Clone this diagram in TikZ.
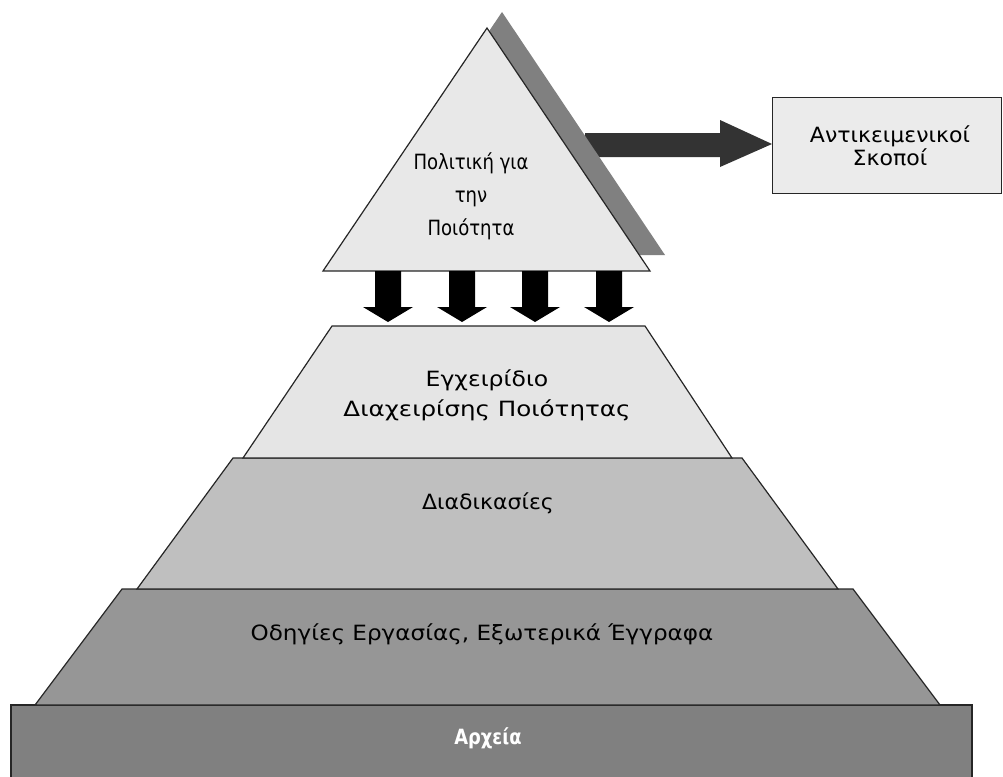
\documentclass[tikz,border=0pt]{standalone}
\usepackage{fontspec}
\usepackage{graphicx}
\setmainfont{DejaVu Sans}
% horizontally scaled line of text
\newcommand\hs[2]{\scalebox{#1}[1]{#2}}
\begin{document}
\begin{tikzpicture}[x=1pt,y=-1pt,
  outline/.style={draw=black!85,line width=1.2pt,line join=miter},
  label/.style={font=\fontsize{21}{30}\selectfont,align=center,inner sep=0pt,text=black},
  blockdown/.pic={\fill[black] (-13,0) -- (13,0) -- (13,36) -- (25,36) -- (0,51) -- (-25,36) -- (-13,36) -- cycle;}
]
\useasboundingbox (0,0) rectangle (1003,776);

% corner points of the top triangle
\coordinate (apex) at (487,28);
\coordinate (tbl) at (323,271);
\coordinate (tbr) at (650,271);

% objectives box and the arrow pointing at it (partly hidden by the shadow)
\node[draw=black!85,line width=1.2pt,fill=black!8,minimum width=229pt,minimum height=96pt,
      anchor=north west,inner sep=0pt] (goals) at (772,97) {};
\node[label,font=\fontsize{21}{23}\selectfont] (goalstext) at (890,146) {\hs{1.05}{Αντικειμενικοί}\\\hs{1.05}{Σκοποί}};
\coordinate (arrstart) at (585,145);
\fill[black!80] (arrstart) ++(0,-12) -- (720,133) -- (720,120) -- (goals.west |- 0,144) -- (720,167) -- (720,157) -- (585,157) -- cycle;

% shadow of the top triangle
\fill[black!50] ([shift={(15,-16)}]apex) -- ([shift={(15,-16)}]tbl) -- ([shift={(15,-16)}]tbr) -- cycle;
% top triangle
\draw[outline,fill=black!9] (apex) -- (tbr) -- (tbl) -- cycle;
\node[label,font=\fontsize{21}{33}\selectfont] (policy) at (471,196) {\hs{0.86}{Πολιτική για}\\\hs{0.86}{την}\\\hs{0.86}{Ποιότητα}};

% down arrows
\foreach \ax in {388,462,535,609} \pic at (\ax,271) {blockdown};

% bottom layer
\fill[black!50] (11,705) rectangle (972,780);
\draw[outline] (11,780) -- (11,705) -- (972,705) -- (972,780);
\node[label,text=white,font=\fontsize{21}{24}\bfseries\selectfont] (records) at (488,738) {\hs{0.85}{Αρχεία}};

% third layer
\draw[outline,fill=black!41] (122,589) -- (853,589) -- (940,705) -- (35,705) -- cycle;
\node[label] (instructions) at (482,634) {\hs{1.1}{Οδηγίες Εργασίας, Εξωτερικά Έγγραφα}};

% second layer
\draw[outline,fill=black!25] (233,458) -- (742,458) -- (838,589) -- (137,589) -- cycle;
\node[label] (procedures) at (488,503) {\hs{1.05}{Διαδικασίες}};

% first layer
\draw[outline,fill=black!10] (332,326) -- (645,326) -- (732,458) -- (243,458) -- cycle;
\node[label] (manual) at (487,395) {\hs{1.12}{Εγχειρίδιο}\\\hs{1.17}{Διαχειρίσης Ποιότητας}};
\end{tikzpicture}
\end{document}
